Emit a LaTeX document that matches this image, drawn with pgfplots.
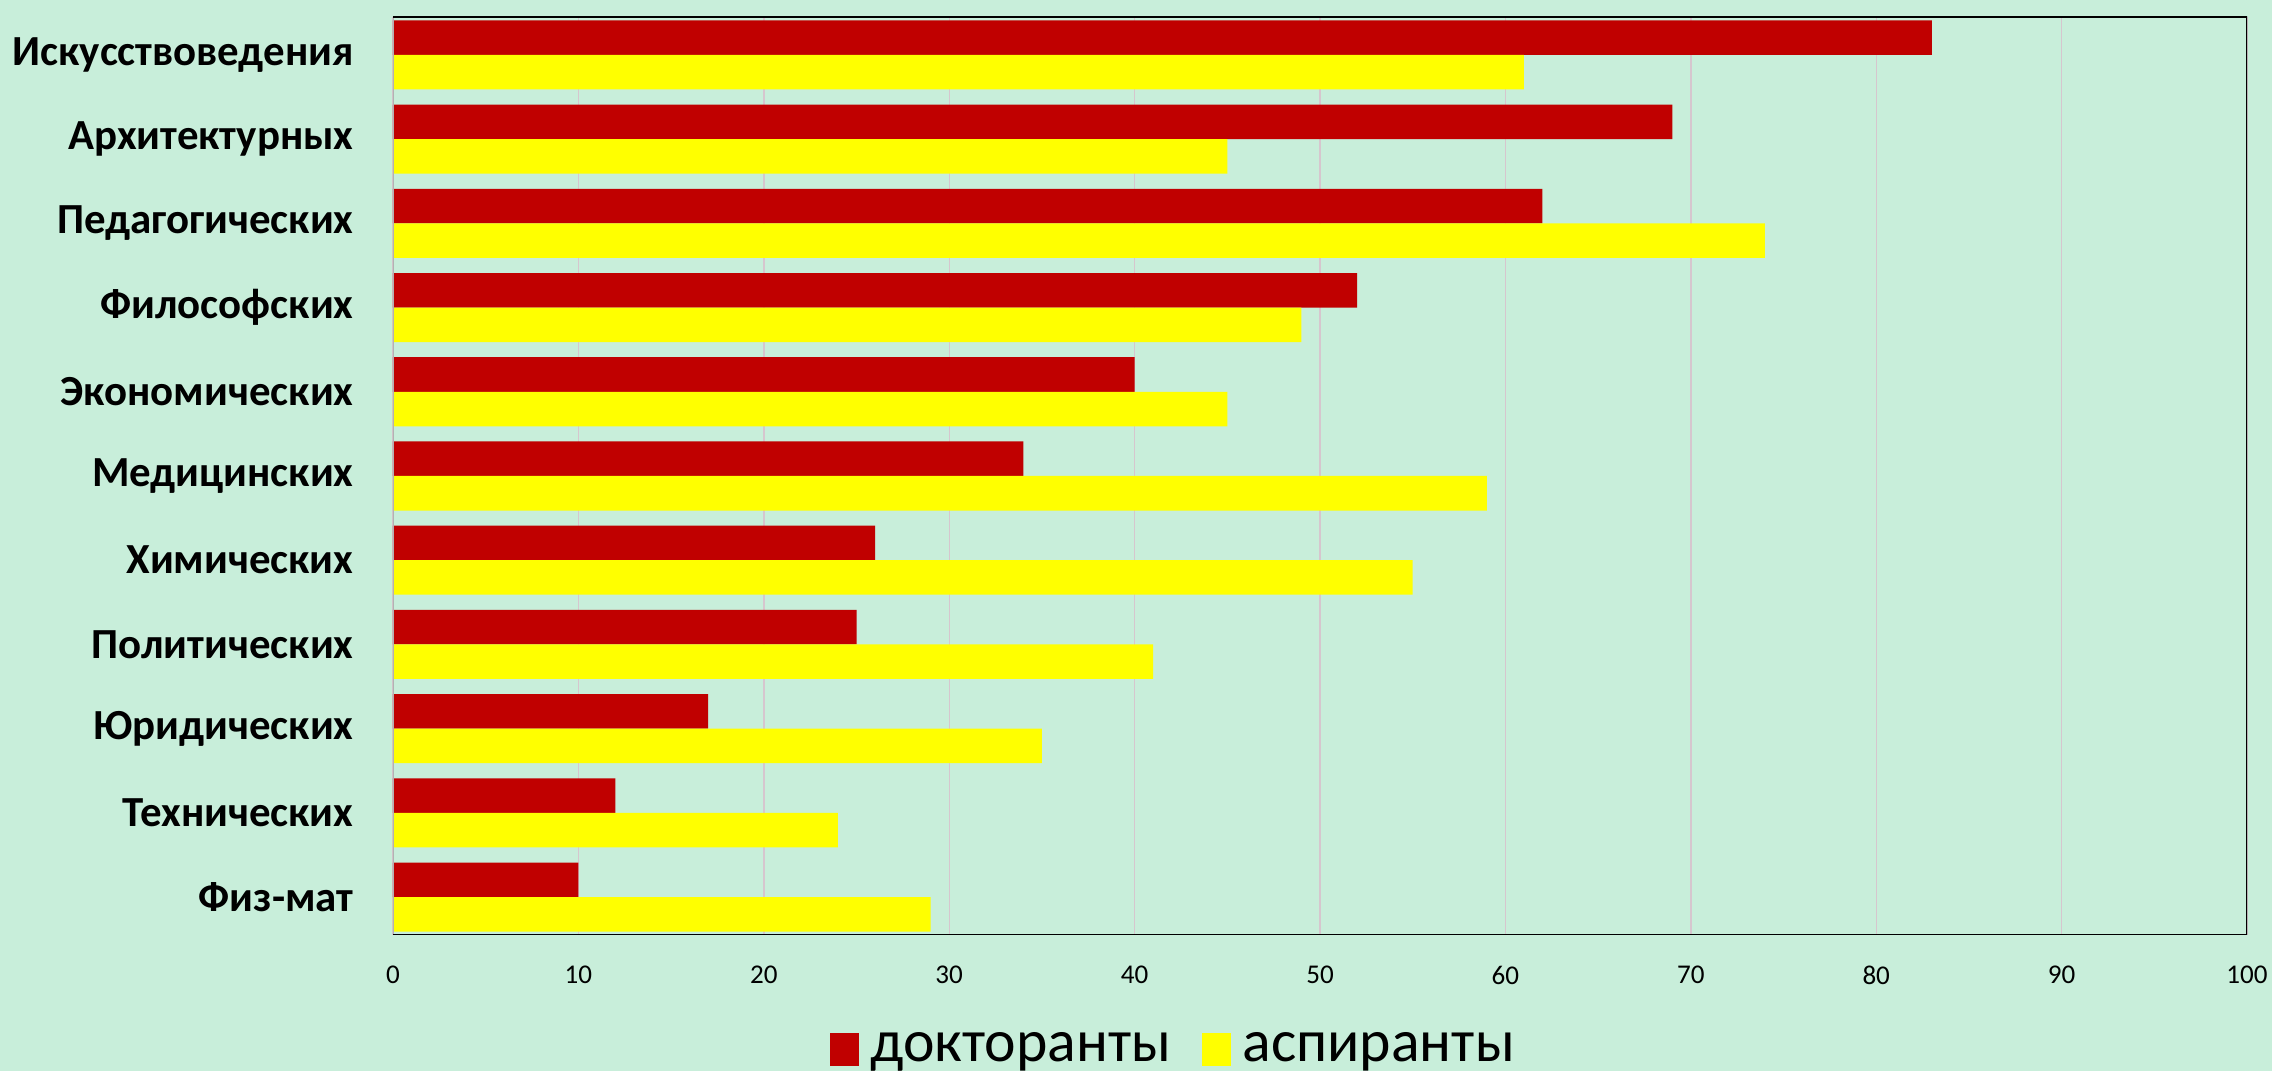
\documentclass[border=0pt]{standalone}
\usepackage{fontspec}
\setmainfont{Carlito}
\usepackage{pgfplots}
\pgfplotsset{compat=1.18}
\definecolor{bg}{RGB}{200,238,218}
\definecolor{dred}{RGB}{192,0,0}
\definecolor{yel}{RGB}{255,255,0}
\definecolor{gridc}{RGB}{214,198,206}
\begin{document}
\begin{tikzpicture}
\fill[bg] (0,0) rectangle (227.2mm,107.1mm);
\begin{axis}[
  at={(39.3mm,13.6mm)}, anchor=south west,
  scale only axis, width=185.4mm, height=91.8mm,
  xbar, bar width=0.41,
  xmin=0, xmax=100, ymin=-0.45, ymax=10.45,
  xtick={0,10,...,100}, ytick={0,...,10},
  yticklabels={Физ-мат, Технических, Юридических, Политических, Химических, Медицинских, Экономических, {Философских\hspace{1.2mm}}, Педагогических, Архитектурных, Искусствоведения},
  major tick length=0,
  /pgf/number format/assume math mode=true,
  xticklabel style={font=\fontsize{7.7}{9}\selectfont, yshift=-1.9mm},
  yticklabel style={font=\bfseries\fontsize{12.2}{14}\selectfont, xshift=-2.7mm},
  xmajorgrids, major grid style={gridc, line width=0.4pt},
  axis line style={draw=none},
  legend columns=2,
  legend style={draw=none, fill=none, at={(rel axis cs:0.4222,-0.125)}, anchor=center,
    font=\fontsize{17}{20}\selectfont,
    /tikz/every odd column/.append style={column sep=0.45mm},
    /tikz/every even column/.append style={column sep=2.4mm}},
  legend image code/.code={\fill[#1] (0mm,-1.6mm) rectangle (2.9mm,1.7mm);},
]
\addplot[fill=dred, draw=none, bar shift=0.205] coordinates {
(10,0) (12,1) (17,2) (25,3) (26,4) (34,5) (40,6) (52,7) (62,8) (69,9) (83,10)};
\addlegendentry{докторанты}
\addplot[fill=yel, draw=none, bar shift=-0.205] coordinates {
(29,0) (24,1) (35,2) (41,3) (55,4) (59,5) (45,6) (49,7) (74,8) (45,9) (61,10)};
\addlegendentry{аспиранты}
\draw[gray!60, line width=0.4pt] (rel axis cs:0,0) -- (rel axis cs:0,1);
\draw[black, line width=0.6pt] (rel axis cs:0,1) -- (rel axis cs:1,1) -- (rel axis cs:1,0) -- (rel axis cs:0,0);
\end{axis}
\pgfresetboundingbox
\path (0,0) rectangle (227.2mm,107.1mm);
\end{tikzpicture}
\end{document}
